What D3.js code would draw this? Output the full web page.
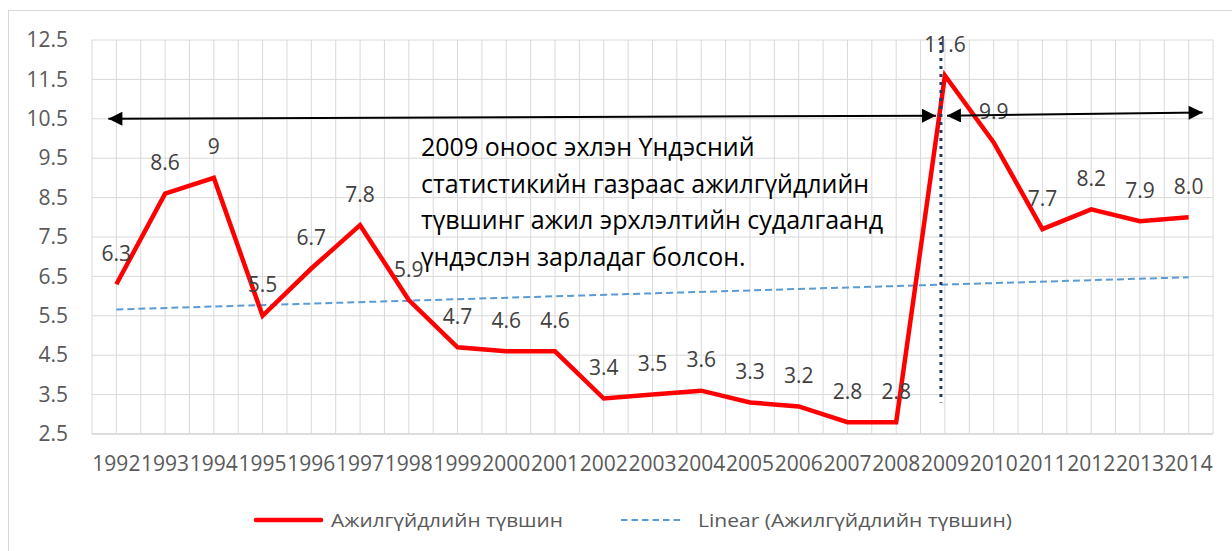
<!DOCTYPE html>
<html><head><meta charset="utf-8">
<script src="https://cdn.jsdelivr.net/npm/d3@7"></script>
<style>
html,body{margin:0;padding:0;background:#fff;}
svg{display:block;font-family:"Open Sans",sans-serif;}
</style></head>
<body>
<svg id="chart" width="1232" height="551"></svg>
<script>
const years = ["1992","1993","1994","1995","1996","1997","1998","1999","2000","2001","2002","2003","2004","2005","2006","2007","2008","2009","2010","2011","2012","2013","2014"];
const rates = [6.3,8.6,9,5.5,6.7,7.8,5.9,4.7,4.6,4.6,3.4,3.5,3.6,3.3,3.2,2.8,2.8,11.6,9.9,7.7,8.2,7.9,8.0];
const labels = ["6.3","8.6","9","5.5","6.7","7.8","5.9","4.7","4.6","4.6","3.4","3.5","3.6","3.3","3.2","2.8","2.8","11.6","9.9","7.7","8.2","7.9","8.0"];
const yTicks = [2.5,3.5,4.5,5.5,6.5,7.5,8.5,9.5,10.5,11.5,12.5];
const seriesName = "Ажилгүйдлийн түвшин";
const trendName = "Linear (Ажилгүйдлийн түвшин)";
const noteLines = ["2009 оноос эхлэн Үндэсний","статистикийн газраас ажилгүйдлийн","түвшинг ажил эрхлэлтийн судалгаанд","үндэслэн зарладаг болсон."];
const breakYear = "2009";

const svg = d3.select("#chart");
const m = {left:92, right:1213, top:40, bottom:434};

// chart border
svg.append("rect").attr("x",8.5).attr("y",10.5).attr("width",1240).attr("height",600)
  .attr("fill","none").attr("stroke","#D9D9D9").attr("stroke-width",1);

const x = d3.scaleBand().domain(years).range([m.left,m.right]).padding(0);
const xc = d => x(d) + x.bandwidth()/2;
const y = d3.scaleLinear().domain([2.5,12.5]).range([m.bottom,m.top]);

// gridlines
const g = svg.append("g");
g.selectAll("line.h").data(yTicks).join("line")
  .attr("x1",m.left).attr("x2",m.right).attr("y1",d=>y(d)).attr("y2",d=>y(d))
  .attr("stroke","#D9D9D9").attr("stroke-width",1);
const vpos = [];
years.forEach(yr => { vpos.push(x(yr)); vpos.push(xc(yr)); });
vpos.push(m.right);
g.selectAll("line.v").data(vpos).join("line")
  .attr("x1",d=>d).attr("x2",d=>d).attr("y1",m.top).attr("y2",m.bottom)
  .attr("stroke","#D9D9D9").attr("stroke-width",1);
svg.append("line").attr("x1",m.left).attr("x2",m.right).attr("y1",m.bottom).attr("y2",m.bottom)
  .attr("stroke","#D9D9D9").attr("stroke-width",1.5);

// y axis
const ya = svg.append("g").attr("transform",`translate(${m.left-24},0)`)
  .call(d3.axisLeft(y).tickValues(yTicks).tickFormat(d3.format(".1f")).tickSize(0).tickPadding(0));
ya.select(".domain").remove();
ya.selectAll("text").attr("font-size",21).attr("fill","#595959").attr("font-family","Open Sans");

// x axis
const xa = svg.append("g").attr("transform",`translate(0,${m.bottom})`)
  .call(d3.axisBottom(x).tickSize(0).tickPadding(22));
xa.select(".domain").remove();
xa.selectAll("text").attr("font-size",21).attr("fill","#595959").attr("font-family","Open Sans");

// trendline (least squares)
const n = rates.length;
const xs = d3.range(1,n+1);
const mx = d3.mean(xs), my = d3.mean(rates);
const slope = d3.sum(xs.map((v,i)=>(v-mx)*(rates[i]-my))) / d3.sum(xs.map(v=>(v-mx)*(v-mx)));
const icpt = my - slope*mx;
svg.append("line")
  .attr("x1",xc(years[0])).attr("x2",xc(years[n-1]))
  .attr("y1",y(icpt+slope*1)).attr("y2",y(icpt+slope*n))
  .attr("stroke","#5B9BD5").attr("stroke-width",2).attr("stroke-dasharray","7,4");

// main line
const line = d3.line().x((d,i)=>xc(years[i])).y(d=>y(d));
svg.append("path").datum(rates).attr("d",line).attr("fill","none")
  .attr("stroke","#FF0000").attr("stroke-width",4.5).attr("stroke-linejoin","miter");

// dotted vertical line
const bx = xc(breakYear) - 4;
svg.append("line").attr("x1",bx).attr("x2",bx).attr("y1",y(12.45)).attr("y2",y(3.3))
  .attr("stroke","#1F3864").attr("stroke-width",3).attr("stroke-dasharray","3,5");

// data labels
svg.append("g").selectAll("text").data(rates).join("text")
  .attr("x",(d,i)=>xc(years[i])).attr("y",d=>y(d)-23.5)
  .attr("text-anchor","middle").attr("font-size",21).attr("fill","#404040")
  .text((d,i)=>labels[i]);

// arrows
const defs = svg.append("defs");
defs.append("marker").attr("id","ah").attr("viewBox","0 0 10 10").attr("refX",10).attr("refY",5)
  .attr("markerWidth",8).attr("markerHeight",7).attr("markerUnits","strokeWidth").attr("orient","auto-start-reverse")
  .append("path").attr("d","M0,0 L10,5 L0,10 z").attr("fill","#000");
svg.append("line")
  .attr("x1",xc(years[0])-8).attr("y1",y(10.5))
  .attr("x2",bx-5).attr("y2",y(10.58))
  .attr("stroke","#000").attr("stroke-width",2)
  .attr("marker-start","url(#ah)").attr("marker-end","url(#ah)");
svg.append("line")
  .attr("x1",bx+6).attr("y1",y(10.58))
  .attr("x2",xc(years[n-1])+14).attr("y2",y(10.66))
  .attr("stroke","#000").attr("stroke-width",2)
  .attr("marker-start","url(#ah)").attr("marker-end","url(#ah)");

// annotation text
const note = svg.append("text").attr("font-size",25).attr("fill","#000");
noteLines.forEach((t,i)=>{
  note.append("tspan").attr("x",421).attr("y",156+i*36.5).text(t);
});

// legend
const lg = svg.append("g");
lg.append("line").attr("x1",256).attr("x2",321).attr("y1",520).attr("y2",520)
  .attr("stroke","#FF0000").attr("stroke-width",4.5).attr("stroke-linecap","round");
lg.append("text").attr("x",331).attr("y",527).attr("font-size",19).attr("fill","#595959")
  .attr("textLength",232).attr("lengthAdjust","spacingAndGlyphs").text(seriesName);
lg.append("line").attr("x1",621).attr("x2",683).attr("y1",520).attr("y2",520)
  .attr("stroke","#5B9BD5").attr("stroke-width",2).attr("stroke-dasharray","6.5,4");
lg.append("text").attr("x",698).attr("y",527).attr("font-size",19).attr("fill","#595959")
  .attr("textLength",314).attr("lengthAdjust","spacingAndGlyphs").text(trendName);
</script>
</body></html>
